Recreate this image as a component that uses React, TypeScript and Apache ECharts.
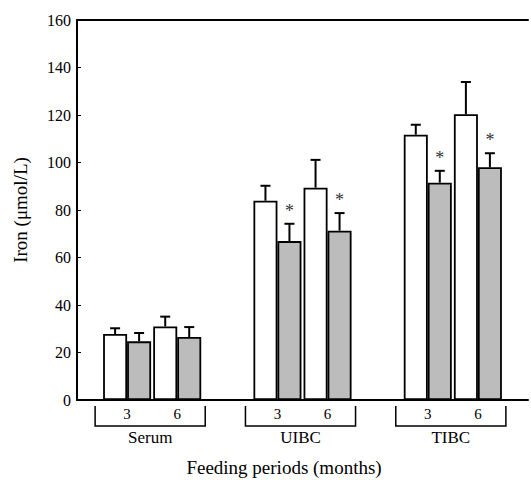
import React, { useEffect, useRef } from "react";
import * as echarts from "echarts";

// Category slots along the x axis (empty slots separate the groups)
const periods = ["", "3", "6", "", "3", "6", "", "3", "6", ""];
// Control (white) bars
const controlMeans = [null, 27.8, 31.0, null, 83.9, 89.4, null, 111.7, 120.3, null];
const controlErr = [null, 2.4, 4.1, null, 6.3, 11.7, null, 4.2, 13.6, null];
// Treated (grey) bars
const treatedMeans = [null, 24.7, 26.5, null, 66.9, 71.3, null, 91.5, 98.0, null];
const treatedErr = [null, 3.5, 4.2, null, 7.3, 7.4, null, 5.0, 5.9, null];
const treatedSignificant = [false, false, false, false, true, true, false, true, true, false];
// Groups: name + first/last slot index
const groupNames = ["Serum", "UIBC", "TIBC"];
const groupFirst = [1, 4, 7];
const groupLast = [2, 5, 8];
// Y axis
const yMin = 0;
const yMax = 160;
const yInterval = 20;
const yTitle = "Iron (\u03bcmol/L)";
const xTitle = "Feeding periods (months)";

const SERIF = "'Liberation Serif', 'DejaVu Serif', serif";
const BAR_W = 24;

export default function App() {
  const ref = useRef<HTMLDivElement>(null);

  useEffect(() => {
    if (!ref.current) return;
    const chart = echarts.init(ref.current, null, { renderer: "svg" });

    const errData: any[] = [];
    periods.forEach((_, i) => {
      if (controlMeans[i] != null) errData.push([i, controlMeans[i], controlErr[i], -1, 0]);
      if (treatedMeans[i] != null)
        errData.push([i, treatedMeans[i], treatedErr[i], 1, treatedSignificant[i] ? 1 : 0]);
    });
    const groupData = groupNames.map((_, g) => [groupFirst[g], groupLast[g], g]);

    chart.setOption({
      animation: false,
      grid: { left: 77, right: 0, top: 20, bottom: 80, containLabel: false },
      xAxis: [
        {
          type: "category",
          data: periods,
          boundaryGap: false,
          axisLine: { show: true, lineStyle: { color: "#000", width: 2 } },
          axisTick: { show: false },
          axisLabel: { color: "#000", fontFamily: SERIF, fontSize: 15, margin: 6, interval: 0 },
          splitLine: { show: false },
        },
        {
          type: "category",
          data: periods,
          boundaryGap: false,
          position: "top",
          axisLine: { show: true, onZero: false, lineStyle: { color: "#000", width: 2 } },
          axisTick: { show: false },
          axisLabel: { show: false },
          splitLine: { show: false },
        },
      ],
      yAxis: {
        type: "value",
        min: yMin,
        max: yMax,
        interval: yInterval,
        name: yTitle,
        nameLocation: "middle",
        nameGap: 47,
        nameTextStyle: { color: "#000", fontFamily: SERIF, fontSize: 19 },
        axisLine: { show: true, lineStyle: { color: "#000", width: 2 } },
        axisTick: { show: true, inside: true, length: 4, lineStyle: { color: "#000", width: 1 } },
        axisLabel: { color: "#000", fontFamily: SERIF, fontSize: 16, margin: 6 },
        splitLine: { show: false },
      },
      graphic: [
        {
          type: "text",
          x: 284,
          y: 467,
          style: {
            text: xTitle,
            fill: "#000",
            font: `19px ${SERIF}`,
            align: "center",
            verticalAlign: "middle",
          },
        },
      ],
      series: [
        {
          type: "bar",
          name: "Control",
          data: controlMeans.map((v) => (v == null ? "-" : v)),
          barWidth: BAR_W,
          barGap: "0%",
          itemStyle: { color: "#ffffff", borderColor: "#000", borderWidth: 1.8 },
        },
        {
          type: "bar",
          name: "Treated",
          data: treatedMeans.map((v) => (v == null ? "-" : v)),
          barWidth: BAR_W,
          barGap: "0%",
          itemStyle: { color: "#bcbcbc", borderColor: "#000", borderWidth: 1.8 },
        },
        {
          type: "custom",
          name: "errors",
          data: errData,
          z: 5,
          renderItem: (params: any, api: any) => {
            const idx = api.value(0);
            const mean = api.value(1);
            const err = api.value(2);
            const side = api.value(3);
            const sig = api.value(4);
            const base = api.coord([idx, mean]);
            const top = api.coord([idx, mean + err]);
            const x = base[0] + side * (BAR_W / 2);
            const children: any[] = [
              {
                type: "line",
                shape: { x1: x, y1: base[1], x2: x, y2: top[1] },
                style: { stroke: "#000", lineWidth: 2 },
              },
              {
                type: "line",
                shape: { x1: x - 5, y1: top[1], x2: x + 5, y2: top[1] },
                style: { stroke: "#000", lineWidth: 2 },
              },
            ];
            if (sig) {
              children.push({
                type: "text",
                x: x,
                y: top[1] - 4,
                style: {
                  text: "*",
                  fill: "#333",
                  font: `18px ${SERIF}`,
                  align: "center",
                  verticalAlign: "bottom",
                },
              });
            }
            return { type: "group", children };
          },
        },
        {
          type: "custom",
          name: "groups",
          data: groupData,
          z: 5,
          renderItem: (params: any, api: any) => {
            const l = api.coord([api.value(0), 0]);
            const r = api.coord([api.value(1), 0]);
            const g = api.value(2);
            const y0 = l[1];
            const x1 = l[0] - 32;
            const x2 = r[0] + 28;
            return {
              type: "group",
              children: [
                {
                  type: "polyline",
                  shape: {
                    points: [
                      [x1, y0 + 6],
                      [x1, y0 + 26],
                      [x2, y0 + 26],
                      [x2, y0 + 6],
                    ],
                  },
                  style: { stroke: "#000", lineWidth: 1.5, fill: "none" },
                },
                {
                  type: "text",
                  x: (x1 + x2) / 2,
                  y: y0 + 37,
                  style: {
                    text: groupNames[g],
                    fill: "#000",
                    font: `17px ${SERIF}`,
                    align: "center",
                    verticalAlign: "middle",
                  },
                },
              ],
            };
          },
        },
      ],
    });

    return () => chart.dispose();
  }, []);

  return (
    <div
      ref={ref}
      style={{ position: "absolute", left: 0, top: 0, width: 531, height: 480, background: "#fff" }}
    />
  );
}
